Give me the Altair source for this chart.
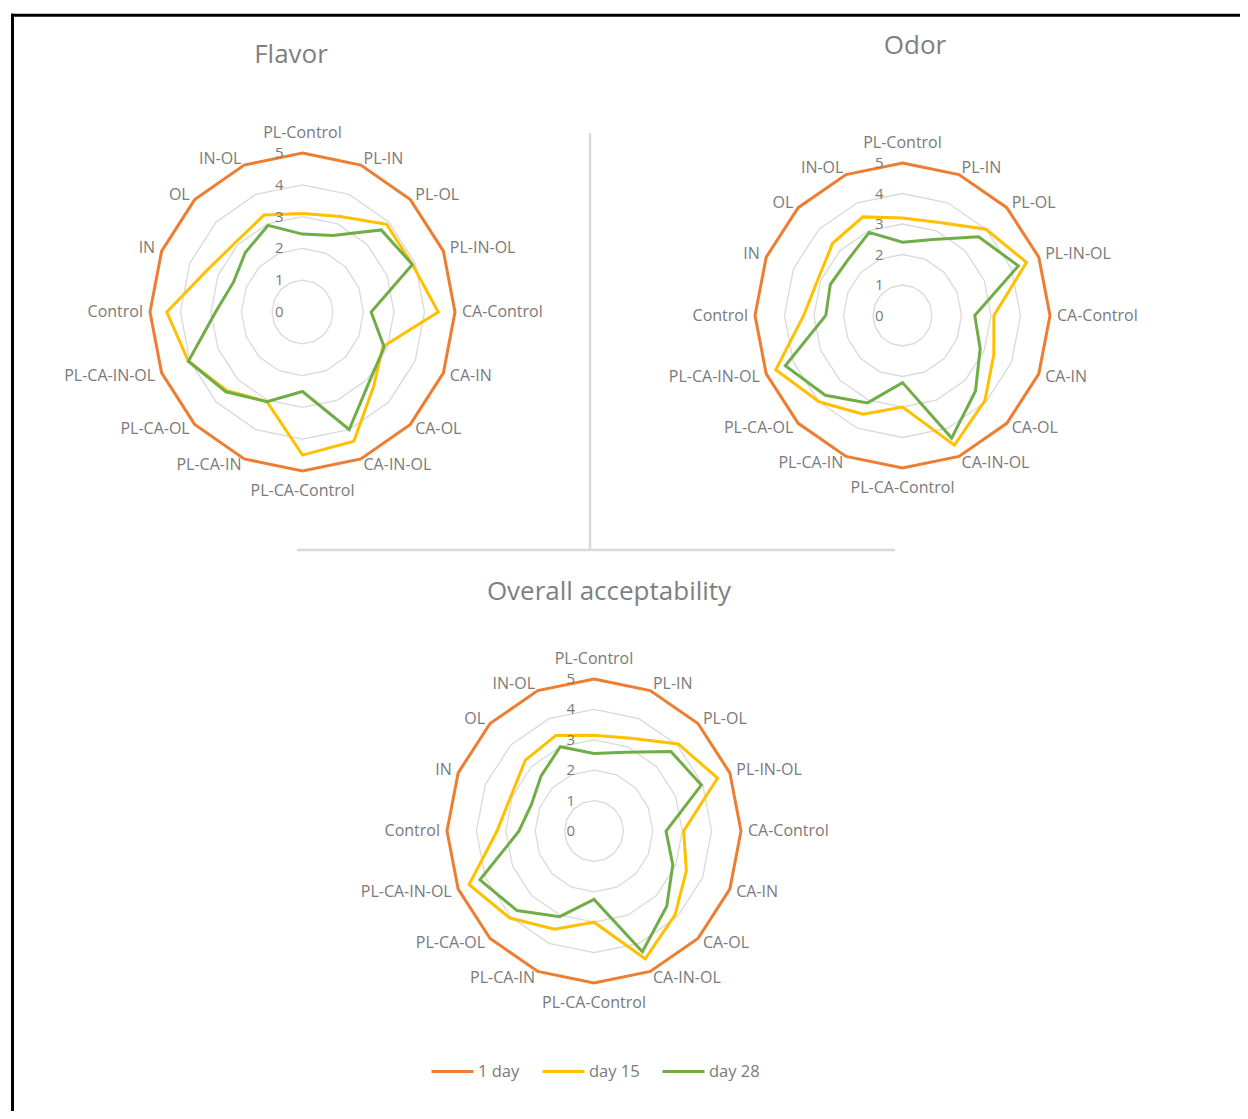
import altair as alt
import pandas as pd

# ---------------- data ----------------
categories = ["PL-Control", "PL-IN", "PL-OL", "PL-IN-OL", "CA-Control", "CA-IN",
              "CA-OL", "CA-IN-OL", "PL-CA-Control", "PL-CA-IN", "PL-CA-OL",
              "PL-CA-IN-OL", "Control", "IN", "OL", "IN-OL"]
series_names = ["1 day", "day 15", "day 28"]
panels = ["Flavor", "Odor", "Overall acceptability"]
tick_levels = [0, 1, 2, 3, 4, 5]
grid_levels = [1, 2, 3, 4, 5]

flavor_day1 = [5, 5, 5, 5, 5, 5, 5, 5, 5, 5, 5, 5, 5, 5, 5, 5]
flavor_day15 = [3.1, 3.25, 3.9, 3.9, 4.45, 2.85, 3.3, 4.4, 4.5, 3.05, 3.5, 4.05, 4.45, 3.4, 3.1, 3.3]
flavor_day28 = [2.45, 2.6, 3.65, 3.9, 2.25, 2.9, 3.1, 4.0, 2.5, 3.05, 3.55, 4.05, 2.85, 2.45, 2.65, 2.95]

odor_day1 = [5, 5, 5, 5, 5, 5, 5, 5, 5, 5, 5, 5, 5, 5, 5, 5]
odor_day15 = [3.2, 3.3, 4.0, 4.55, 3.1, 3.35, 3.95, 4.6, 3.0, 3.5, 4.0, 4.65, 3.35, 3.1, 3.35, 3.5]
odor_day28 = [2.4, 2.7, 3.65, 4.25, 2.45, 2.85, 3.5, 4.35, 2.2, 3.1, 3.7, 4.3, 2.6, 2.65, 2.6, 2.95]

overall_day1 = [5, 5, 5, 5, 5, 5, 5, 5, 5, 5, 5, 5, 5, 5, 5, 5]
overall_day15 = [3.15, 3.3, 4.05, 4.55, 3.05, 3.4, 3.9, 4.55, 3.0, 3.5, 4.05, 4.6, 3.3, 3.05, 3.3, 3.4]
overall_day28 = [2.55, 2.8, 3.7, 3.95, 2.45, 2.9, 3.5, 4.3, 2.25, 3.05, 3.7, 4.2, 2.55, 2.3, 2.55, 3.0]

# ---------------- layout (pixels inside the plot area) ----------------
W, H = 1232, 1103
layout = {
    "Flavor": dict(cx=294.5, cy=304.0, rx=30.5, ry=31.8, tx=283, ty=47),
    "Odor": dict(cx=894.5, cy=307.5, rx=29.5, ry=30.5, tx=907, ty=38),
    "Overall acceptability": dict(cx=586.0, cy=823.0, rx=29.4, ry=30.4, tx=601, ty=584),
}
colors = ["#ED7D31", "#FFC000", "#70AD47"]
text_color = "#7a7a7a"
FONT = "Open Sans"

values = {
    "Flavor": [flavor_day1, flavor_day15, flavor_day28],
    "Odor": [odor_day1, odor_day15, odor_day28],
    "Overall acceptability": [overall_day1, overall_day15, overall_day28],
}

rows = []
for p in panels:
    for s, vals in zip(series_names, values[p]):
        for i, (c, v) in enumerate(zip(categories, vals)):
            rows.append(dict(panel=p, series=s, idx=i, category=c, value=v, **layout[p]))
series_df = pd.DataFrame(rows)

grid_rows = []
for p in panels:
    for lv in grid_levels:
        for i in range(len(categories)):
            grid_rows.append(dict(panel=p, level=lv, idx=i, value=lv, **layout[p]))
grid_df = pd.DataFrame(grid_rows)

cat_rows = []
for p in panels:
    for i, c in enumerate(categories):
        cat_rows.append(dict(panel=p, idx=i, category=c, **layout[p]))
cat_df = pd.DataFrame(cat_rows)

tick_rows = []
for p in panels:
    for lv in tick_levels:
        tick_rows.append(dict(panel=p, level=lv, label=str(lv), **layout[p]))
tick_df = pd.DataFrame(tick_rows)

title_df = pd.DataFrame([dict(panel=p, **layout[p]) for p in panels])

# ---------------- encodings ----------------
xs = alt.Scale(domain=[0, W], nice=False, zero=False)
ys = alt.Scale(domain=[0, H], nice=False, zero=False, reverse=True)
N = len(categories)
ANG = f"datum.idx * 2 * PI / {N}"


def polar(ch):
    return ch.transform_calculate(
        ang=ANG
    ).transform_calculate(
        px="datum.cx + datum.value * datum.rx * sin(datum.ang)",
        py="datum.cy - datum.value * datum.ry * cos(datum.ang)",
    )


X = alt.X("px:Q", scale=xs, axis=None)
Y = alt.Y("py:Q", scale=ys, axis=None)

grid = polar(alt.Chart(grid_df).mark_line(
    interpolate="linear-closed", stroke="#d9d9d9", strokeWidth=1.3
)).encode(x=X, y=Y, order="idx:Q", detail=["panel:N", "level:N"])

color = alt.Color(
    "series:N",
    scale=alt.Scale(domain=series_names, range=colors),
    legend=alt.Legend(
        title=None, orient="none", direction="horizontal",
        legendX=422, legendY=1041, padding=0,
        symbolType="stroke", symbolSize=1764, symbolStrokeWidth=3,
        labelFont=FONT, labelFontSize=16.5, labelColor=text_color,
        labelOffset=3, columnPadding=16,
    ),
)

series_layers = []
for s in series_names:
    series_layers.append(
        polar(alt.Chart(series_df).transform_filter(alt.datum.series == s).mark_line(
            interpolate="linear-closed", strokeWidth=3
        )).encode(x=X, y=Y, order="idx:Q", detail="panel:N", color=color)
    )

# category labels
cat_base = alt.Chart(cat_df).transform_calculate(
    ang=ANG
).transform_calculate(
    s="sin(datum.ang)", c="cos(datum.ang)"
).transform_calculate(
    d="abs(datum.s) < 0.01 ? 20 : 7"
).transform_calculate(
    lx="datum.cx + 5 * datum.rx * datum.s + datum.d * datum.s",
    ly="datum.cy - 5 * datum.ry * datum.c - datum.d * datum.c",
)
LX = alt.X("lx:Q", scale=xs, axis=None)
LY = alt.Y("ly:Q", scale=ys, axis=None)
cat_layers = []
for cond, al in [("datum.s > 0.01", "left"), ("datum.s < -0.01", "right"),
                 ("abs(datum.s) <= 0.01", "center")]:
    cat_layers.append(
        cat_base.transform_filter(cond).mark_text(
            align=al, baseline="middle", font=FONT, fontSize=16, color=text_color
        ).encode(x=LX, y=LY, text="category:N")
    )

ticks = alt.Chart(tick_df).transform_calculate(
    tx2="datum.cx - 19", ty2="datum.cy - datum.level * datum.ry"
).mark_text(
    align="right", baseline="middle", font=FONT, fontSize=15, color=text_color
).encode(
    x=alt.X("tx2:Q", scale=xs, axis=None),
    y=alt.Y("ty2:Q", scale=ys, axis=None),
    text="label:N",
)

titles = alt.Chart(title_df).mark_text(
    align="center", baseline="middle", font=FONT, fontSize=26, color="#7f7f7f"
).encode(
    x=alt.X("tx:Q", scale=xs, axis=None),
    y=alt.Y("ty:Q", scale=ys, axis=None),
    text="panel:N",
)

one = alt.Data(values=[{}])
v_div = alt.Chart(one).mark_rule(color="#d9d9d9", strokeWidth=2.5).encode(
    x=alt.value(582), y=alt.value(125), y2=alt.value(542))
h_div = alt.Chart(one).mark_rule(color="#d9d9d9", strokeWidth=2.5).encode(
    y=alt.value(542), x=alt.value(289), x2=alt.value(887))
b_left = alt.Chart(one).mark_rule(color="#000000", strokeWidth=3).encode(
    x=alt.value(4.5), y=alt.value(5.8), y2=alt.value(H))
b_top = alt.Chart(one).mark_rule(color="#000000", strokeWidth=3).encode(
    y=alt.value(7.3), x=alt.value(3), x2=alt.value(W))

chart = alt.layer(
    grid, v_div, h_div, *series_layers, ticks, *cat_layers, titles, b_left, b_top
).properties(
    width=W, height=H, padding=0, background="white",
    autosize=alt.AutoSizeParams(type="none"),
).configure_view(stroke=None)

chart.save("out.html", embed_options={"renderer": "svg", "actions": False})
